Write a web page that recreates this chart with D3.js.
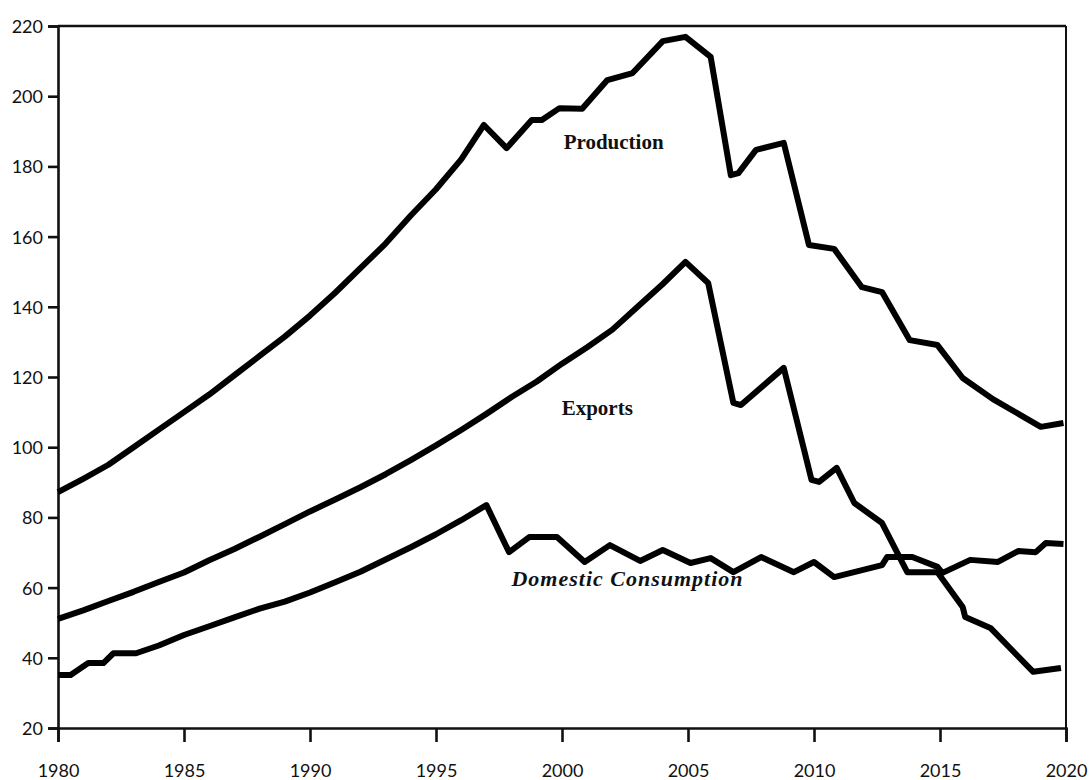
<!DOCTYPE html>
<html>
<head>
<meta charset="utf-8">
<script src="https://cdn.jsdelivr.net/npm/d3@7"></script>
<style>
  html, body { margin: 0; padding: 0; background: #fff; }
  svg { display: block; }
  .tick text { font-family: Lato, "Open Sans", sans-serif; font-size: 18px; fill: #111; }
  .label { font-family: "Liberation Serif", serif; font-weight: bold; font-size: 21px; fill: #111; }
</style>
</head>
<body>
<div id="chart"></div>
<script>
// values (fractional years where the kinks fall between years)
const productionYears = [1980, 1981, 1982, 1983, 1984, 1985, 1986, 1987, 1988, 1989, 1990, 1991, 1992, 1993, 1994, 1995, 1996,
  1996.9, 1997.8, 1998.8, 1999.2, 1999.9, 2000.8, 2001.8, 2002.8, 2004.0, 2004.9, 2005.9, 2006.7, 2007.0, 2007.7, 2008.8,
  2009.8, 2010.8, 2011.9, 2012.7, 2013.8, 2014.9, 2015.9, 2017.1, 2019.0, 2019.9];
const productionValues = [87.2, 91, 95, 100, 105, 110, 115, 120.5, 126, 131.5, 137.5, 144, 151, 158, 166, 173.5, 182,
  191.8, 185.2, 193.2, 193.2, 196.6, 196.4, 204.6, 206.6, 215.7, 216.9, 211.2, 177.5, 178.1, 184.7, 186.7,
  157.6, 156.5, 145.6, 144.2, 130.5, 129.1, 119.7, 113.7, 105.8, 106.9];

const exportYears = [1980, 1981, 1982, 1983, 1984, 1985, 1986, 1987, 1988, 1989, 1990, 1991, 1992, 1993, 1994, 1995, 1996,
  1997, 1998, 1999, 2000, 2001, 2002, 2003, 2004, 2004.9, 2005.8, 2006.8, 2007.1, 2008.8, 2009.9, 2010.2, 2010.9,
  2011.6, 2012.7, 2013.7, 2014.9, 2015.9, 2016.0, 2017.0, 2018.7, 2019.8];
const exportValues = [51.1, 53.5, 56.2, 58.8, 61.6, 64.3, 67.8, 71, 74.5, 78.1, 81.7, 85.1, 88.6, 92.3, 96.3, 100.5, 104.9,
  109.5, 114.3, 118.7, 123.8, 128.5, 133.5, 140, 146.5, 152.8, 146.8, 112.6, 112, 122.6, 90.7, 90.1, 94.1,
  84.1, 78.4, 64.4, 64.4, 54.5, 51.6, 48.5, 36, 37.1];

const domesticYears = [1980, 1980.5, 1981.2, 1981.8, 1982.2, 1983.1, 1984, 1985, 1986, 1987, 1988, 1989, 1990, 1991, 1992,
  1993, 1994, 1995, 1996, 1997.0, 1997.9, 1998.7, 1999.8, 2000.9, 2001.9, 2003.1, 2004.0, 2005.1, 2005.9, 2006.8,
  2007.9, 2009.2, 2010.0, 2010.8, 2012.7, 2012.9, 2013.9, 2014.9, 2015.1, 2016.2, 2017.3, 2018.1, 2018.8, 2019.2, 2019.9];
const domesticValues = [35.1, 35.1, 38.5, 38.5, 41.3, 41.3, 43.5, 46.5, 49, 51.5, 54, 56, 58.6, 61.5, 64.5,
  68, 71.5, 75.2, 79.2, 83.5, 70.1, 74.4, 74.4, 67.3, 72.1, 67.6, 70.7, 67, 68.4, 64.4,
  68.7, 64.4, 67.3, 63, 66.4, 68.7, 68.7, 65.9, 64.2, 67.9, 67.3, 70.4, 70.1, 72.7, 72.4];

const xTicks = [1980, 1985, 1990, 1995, 2000, 2005, 2010, 2015, 2020];
const yTicks = [20, 40, 60, 80, 100, 120, 140, 160, 180, 200, 220];

// series label text and where it sits (year, value of baseline)
const labelNames = ["Production", "Exports", "Domestic Consumption"];
const labelYears = [2002.05, 2001.4, 2002.6];
const labelValues = [185, 109.2, 60.5];

const width = 1091, height = 780;
const margin = {left: 58, right: 25, top: 26, bottom: 52};

const svg = d3.select("#chart").append("svg")
    .attr("width", width)
    .attr("height", height);

const x = d3.scaleLinear().domain([1980, 2020]).range([margin.left, width - margin.right]);
const y = d3.scaleLinear().domain([20, 220]).range([height - margin.bottom, margin.top]);

// frame: top and right edges
svg.append("line")
    .attr("x1", x(1980)).attr("x2", x(2020))
    .attr("y1", y(220)).attr("y2", y(220))
    .attr("stroke", "#111").attr("stroke-width", 2.6);
svg.append("line")
    .attr("x1", x(2020)).attr("x2", x(2020))
    .attr("y1", y(220)).attr("y2", y(20))
    .attr("stroke", "#111").attr("stroke-width", 2);

const xAxis = svg.append("g")
    .attr("transform", "translate(0," + y(20) + ")")
    .call(d3.axisBottom(x).tickValues(xTicks).tickFormat(d3.format("d")).tickSize(14).tickPadding(22));
xAxis.select(".domain").attr("stroke", "#111").attr("stroke-width", 2.6);
xAxis.selectAll(".tick line").attr("stroke", "#111").attr("stroke-width", 2.6);

const yAxis = svg.append("g")
    .attr("transform", "translate(" + x(1980) + ",0)")
    .call(d3.axisLeft(y).tickValues(yTicks).tickSize(10).tickPadding(5));
yAxis.select(".domain").attr("stroke", "#111").attr("stroke-width", 2.6);
yAxis.selectAll(".tick line").attr("stroke", "#111").attr("stroke-width", 2.6);
yAxis.selectAll(".tick text").attr("dy", "0.36em");

function toPoints(years, values) {
    return years.map(function(d, i) { return [d, values[i]]; });
}

const line = d3.line()
    .x(function(d) { return x(d[0]); })
    .y(function(d) { return y(d[1]); });

const series = [
    toPoints(productionYears, productionValues),
    toPoints(exportYears, exportValues),
    toPoints(domesticYears, domesticValues)
];

svg.append("g").selectAll("path")
    .data(series)
    .enter()
    .append("path")
    .attr("d", line)
    .attr("fill", "none")
    .attr("stroke", "#000")
    .attr("stroke-width", 6)
    .attr("stroke-linejoin", "round");

svg.append("g").selectAll("text")
    .data(labelNames)
    .enter()
    .append("text")
    .attr("class", "label")
    .attr("x", function(d, i) { return x(labelYears[i]); })
    .attr("y", function(d, i) { return y(labelValues[i]); })
    .attr("text-anchor", "middle")
    .style("font-style", function(d, i) { return i === 2 ? "italic" : "normal"; })
    .style("font-size", function(d, i) { return i === 2 ? "22px" : null; })
    .style("letter-spacing", function(d, i) { return i === 2 ? "1px" : null; })
    .text(function(d) { return d; });
</script>
</body>
</html>
